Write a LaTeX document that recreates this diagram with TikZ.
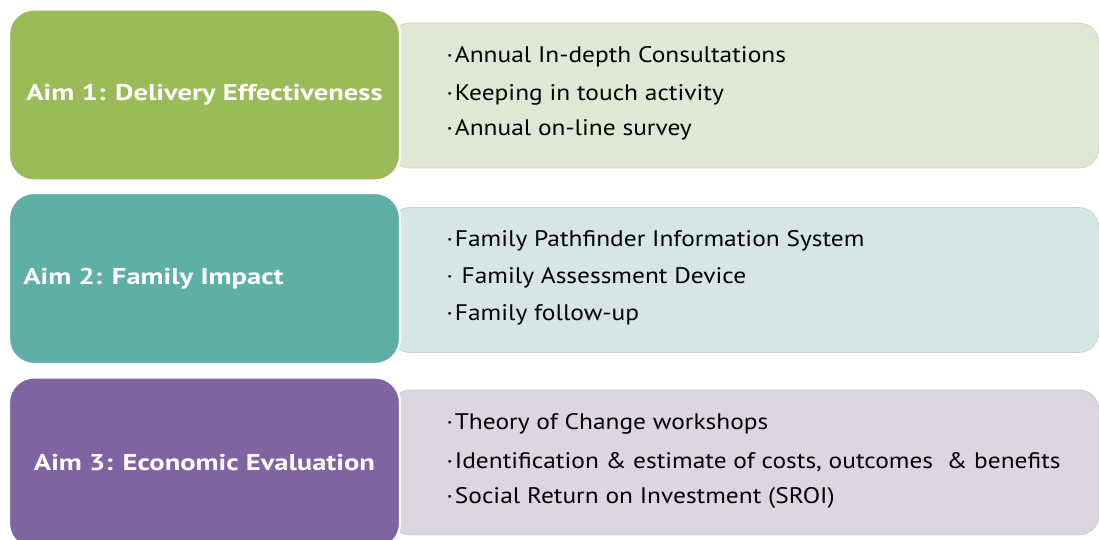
\documentclass[tikz,border=0pt]{standalone}
\usepackage{fontspec}
\setmainfont{PT Sans}
\newfontfamily\itemfont[FakeStretch=1.13]{PT Sans}
\newfontfamily\aimfont[FakeStretch=1.25]{PT Sans}

\definecolor{aimgreen}{HTML}{9BBB59}
\definecolor{aimteal}{HTML}{5EAFA6}
\definecolor{aimpurple}{HTML}{8064A2}
\definecolor{listgreen}{HTML}{DFE8D4}
\definecolor{listteal}{HTML}{D5E6E5}
\definecolor{listpurple}{HTML}{DBD6E2}

\tikzset{
	aimbox/.style={rounded corners=0.5cm, draw=white, line width=1.2pt, minimum width=7.82cm, minimum height=3.42cm},
	listbox/.style={rounded corners=0.4cm, draw=#1!92!black, line width=0.4pt, fill=#1, minimum width=14.18cm, minimum height=2.9cm},
	aimlabel/.style={text=white, font=\aimfont\bfseries\fontsize{13}{15}\selectfont},
	listitem/.style={anchor=west, inner sep=0pt, font=\itemfont\fontsize{12.8}{15}\selectfont}
}

\begin{document}
\begin{tikzpicture}[x=0.02cm, y=-0.02cm]
	\useasboundingbox (0,0) rectangle (1099,540);

	% list boxes (behind)
	\node[listbox=listgreen] (list1) at (744.5,95.5) {};
	\node[listbox=listteal] (list2) at (744.5,280) {};
	\node[listbox=listpurple] (list3) at (744.5,462.5) {};

	% aim boxes
	\node[aimbox, fill=aimgreen] (aim1) at (204.5,95) {};
	\node[aimbox, fill=aimteal] (aim2) at (204.5,278.5) {};
	\node[aimbox, fill=aimpurple] (aim3) at (204.5,463) {};

	% aim labels
	\node[aimlabel] (lab1) at (aim1.center) {Aim 1: Delivery Effectiveness};
	\node[aimlabel, anchor=west, inner sep=0pt] (lab2) at (23,278.5) {Aim 2: Family Impact};
	\node[aimlabel] (lab3) at (aim3.center) {Aim 3: Economic Evaluation};

	% items, aim 1
	\node[listitem] (it11) at (446,57) {·\hspace{1pt}Annual In-depth Consultations};
	\node[listitem] (it12) at (446,95) {·\hspace{1pt}Keeping in touch activity};
	\node[listitem] (it13) at (446,130) {·\hspace{1pt}Annual on-line survey};

	% items, aim 2
	\node[listitem] (it21) at (446,241) {·\hspace{1pt}Family Pathfinder Information System};
	\node[listitem] (it22) at (446,278) {·\hspace{1pt} Family Assessment Device};
	\node[listitem] (it23) at (446,315) {·\hspace{1pt}Family follow-up};

	% items, aim 3
	\node[listitem] (it31) at (446,424) {·\hspace{1pt}Theory of Change workshops};
	\node[listitem] (it32) at (446,462) {·\hspace{1pt}Identification \& estimate of costs, outcomes \ \& benefits};
	\node[listitem] (it33) at (446,498) {·\hspace{1pt}Social Return on Investment (SROI)};

\end{tikzpicture}
\end{document}
